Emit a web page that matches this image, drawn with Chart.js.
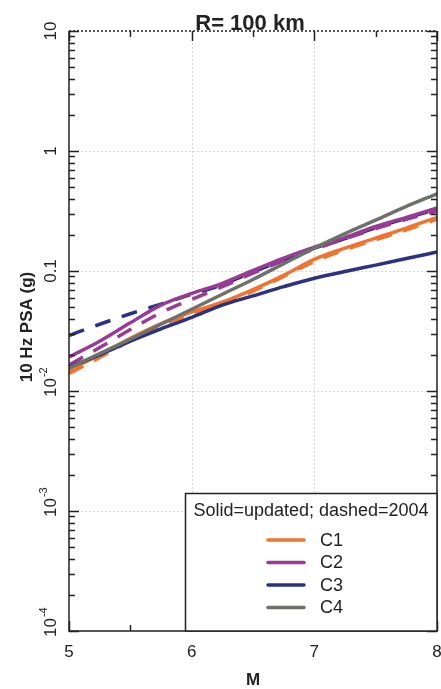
<!DOCTYPE html>
<html>
<head>
<meta charset="utf-8">
<script src="https://cdn.jsdelivr.net/npm/chart.js@4"></script>
<style>
  html, body { margin: 0; padding: 0; background: #fff; }
  canvas { display: block; }
</style>
</head>
<body>
<canvas id="psa-chart" width="441" height="689"></canvas>
<script>
// 10 Hz PSA vs magnitude at R = 100 km, updated (solid) vs 2004 (dashed)
const magnitudes = [5, 5.25, 5.5, 5.75, 6, 6.25, 6.5, 6.75, 7, 7.25, 7.5, 7.75, 8];

const c1Updated = [0.0150, 0.0200, 0.0275, 0.0365, 0.0455, 0.0550, 0.0700, 0.0920, 0.125, 0.155, 0.188, 0.228, 0.280];
const c1Dashed = [0.0140, 0.0190, 0.0262, 0.0350, 0.0440, 0.0540, 0.0680, 0.0900, 0.120, 0.150, 0.182, 0.220, 0.270];
const c2Updated = [0.0192, 0.0260, 0.0370, 0.0520, 0.0650, 0.0790, 0.101, 0.128, 0.158, 0.190, 0.235, 0.280, 0.335];
const c2Dashed = [0.0165, 0.0230, 0.0325, 0.0450, 0.0580, 0.0740, 0.0960, 0.122, 0.152, 0.185, 0.225, 0.270, 0.315];
const c3Updated = [0.0158, 0.0200, 0.0260, 0.0330, 0.0410, 0.0520, 0.0620, 0.0740, 0.0870, 0.0990, 0.112, 0.127, 0.144];
const c3Dashed = [0.0290, 0.0360, 0.0440, 0.0530, 0.0640, 0.0770, 0.0980, 0.124, 0.155, 0.186, 0.230, 0.275, 0.328];
const c4Updated = [0.0155, 0.0205, 0.0270, 0.0360, 0.0480, 0.0640, 0.0850, 0.115, 0.155, 0.205, 0.265, 0.345, 0.440];

const seriesNames = ['C1', 'C2', 'C3', 'C4'];
const seriesColours = ['#f0732f', '#973b95', '#2c3282', '#6c716a'];

const xTicks = [5, 6, 7, 8];
const xMinorTicks = [5.5, 6.5, 7.5];
const yDecades = [1e-4, 1e-3, 1e-2, 0.1, 1, 10];
const yTickLabels = [['10', '-4'], ['10', '-3'], ['10', '-2'], ['0.1', ''], ['1', ''], ['10', '']];

const FONT = '"Liberation Sans", Arial, sans-serif';

function line(values, colour, dashed, order) {
  return {
    data: magnitudes.map((m, i) => ({ x: m, y: values[i] })),
    borderColor: colour,
    borderWidth: 3.5,
    borderDash: dashed ? [16, 12] : [],
    cubicInterpolationMode: 'monotone',
    pointRadius: 0,
    fill: false,
    order: order,
  };
}

const datasets = [
  line(c3Dashed, seriesColours[2], true, 9),
  line(c2Dashed, seriesColours[1], true, 8),
  line(c1Dashed, seriesColours[0], true, 7),
  line(c1Updated, seriesColours[0], false, 6),
  line(c3Updated, seriesColours[2], false, 5),
  line(c2Updated, seriesColours[1], false, 4),
  line(c4Updated, seriesColours[3], false, 3),
];

const framePlugin = {
  id: 'frame',
  beforeDatasetsDraw(chart) {
    const { ctx, chartArea: a, scales: { x, y } } = chart;
    ctx.save();
    ctx.strokeStyle = '#d4d4d4';
    ctx.lineWidth = 1;
    ctx.setLineDash([2, 2]);
    yDecades.slice(1, -1).forEach((v) => {
      const py = Math.round(y.getPixelForValue(v)) + 0.5;
      ctx.beginPath(); ctx.moveTo(a.left, py); ctx.lineTo(a.right, py); ctx.stroke();
    });
    xTicks.slice(1, -1).forEach((v) => {
      const px = Math.round(x.getPixelForValue(v)) + 0.5;
      ctx.beginPath(); ctx.moveTo(px, a.top); ctx.lineTo(px, a.bottom); ctx.stroke();
    });
    ctx.restore();
  },
  afterDatasetsDraw(chart) {
    const { ctx, chartArea: a, scales: { x, y } } = chart;
    ctx.save();
    ctx.strokeStyle = '#222';
    ctx.lineWidth = 1.5;

    // frame: dotted top edge, solid elsewhere
    ctx.beginPath();
    ctx.moveTo(a.left, a.top); ctx.lineTo(a.left, a.bottom);
    ctx.lineTo(a.right, a.bottom); ctx.lineTo(a.right, a.top);
    ctx.stroke();
    ctx.setLineDash([2, 2]);
    ctx.beginPath(); ctx.moveTo(a.left, a.top); ctx.lineTo(a.right, a.top); ctx.stroke();
    ctx.setLineDash([]);

    // y ticks (inward, both sides)
    for (let d = 0; d < yDecades.length; d++) {
      const base = yDecades[d];
      const marks = [{ v: base, len: 10 }];
      if (d < yDecades.length - 1) {
        for (let k = 2; k <= 9; k++) marks.push({ v: base * k, len: 6 });
      }
      marks.forEach((m) => {
        const py = Math.round(y.getPixelForValue(m.v)) + 0.5;
        ctx.beginPath();
        ctx.moveTo(a.left, py); ctx.lineTo(a.left + m.len, py);
        ctx.moveTo(a.right, py); ctx.lineTo(a.right - m.len, py);
        ctx.stroke();
      });
    }

    // x ticks (inward, top and bottom)
    xTicks.concat(xMinorTicks).forEach((v) => {
      const len = xTicks.includes(v) ? 10 : 6;
      const px = Math.round(x.getPixelForValue(v)) + 0.5;
      ctx.beginPath();
      ctx.moveTo(px, a.top); ctx.lineTo(px, a.top + len);
      ctx.moveTo(px, a.bottom); ctx.lineTo(px, a.bottom - len);
      ctx.stroke();
    });

    // y tick labels, rotated
    ctx.fillStyle = '#222';
    yDecades.forEach((v, i) => {
      const py = y.getPixelForValue(v);
      const [main, sup] = yTickLabels[i];
      ctx.save();
      ctx.translate(51, py);
      ctx.rotate(-Math.PI / 2);
      ctx.textBaseline = 'middle';
      ctx.font = '17px ' + FONT;
      if (sup) {
        ctx.textAlign = 'left';
        ctx.fillText(main, -6, 0);
        const w = ctx.measureText(main).width;
        ctx.font = '11px ' + FONT;
        ctx.fillText(sup, -6 + w + 1, -7);
      } else {
        ctx.textAlign = 'center';
        ctx.fillText(main, 0, 0);
      }
      ctx.restore();
    });

    // x tick labels
    ctx.font = '17px ' + FONT;
    ctx.textAlign = 'center';
    ctx.textBaseline = 'middle';
    xTicks.forEach((v) => ctx.fillText(String(v), x.getPixelForValue(v), 652));

    // axis titles
    ctx.font = 'bold 17px ' + FONT;
    ctx.fillText('M', (a.left + a.right) / 2, 680);
    ctx.save();
    ctx.translate(27, 327);
    ctx.rotate(-Math.PI / 2);
    ctx.fillText('10 Hz PSA (g)', 0, 0);
    ctx.restore();

    // title
    ctx.font = 'bold 22px ' + FONT;
    ctx.textBaseline = 'alphabetic';
    ctx.fillText('R= 100 km', 250, 30);

    // legend box
    const lx = 185, ly = 493;
    ctx.fillStyle = '#fff';
    ctx.fillRect(lx, ly, a.right - lx, a.bottom - ly);
    ctx.strokeStyle = '#222';
    ctx.lineWidth = 1.5;
    ctx.strokeRect(lx + 0.5, ly + 0.5, a.right - lx - 0.5, a.bottom - ly - 0.5);
    ctx.fillStyle = '#222';
    ctx.font = '18px ' + FONT;
    ctx.textBaseline = 'middle';
    ctx.fillText('Solid=updated; dashed=2004', (lx + a.right) / 2, 511);
    ctx.textAlign = 'left';
    seriesNames.forEach((name, i) => {
      const ey = 540 + i * 22.5;
      ctx.strokeStyle = seriesColours[i];
      ctx.lineWidth = 3.5;
      ctx.lineCap = 'round';
      ctx.beginPath(); ctx.moveTo(268, ey); ctx.lineTo(304, ey); ctx.stroke();
      ctx.fillStyle = '#222';
      ctx.fillText(name, 320, ey + 1);
    });
    ctx.restore();
  },
};

new Chart(document.getElementById('psa-chart'), {
  type: 'line',
  data: { datasets: datasets },
  options: {
    responsive: false,
    animation: false,
    layout: { padding: { left: 69, right: 4, top: 31, bottom: 58 } },
    plugins: { legend: { display: false }, tooltip: { enabled: false } },
    scales: {
      x: { type: 'linear', min: 5, max: 8, display: false },
      y: { type: 'logarithmic', min: 1e-4, max: 10, display: false },
    },
  },
  plugins: [framePlugin],
});
</script>
</body>
</html>
